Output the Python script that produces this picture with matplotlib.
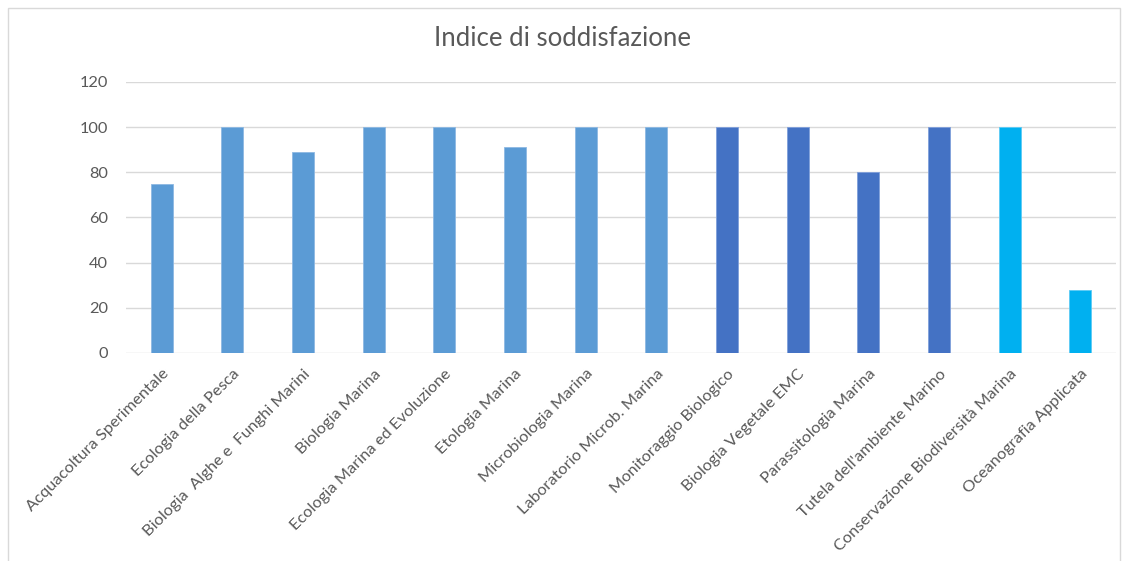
import numpy as np
import matplotlib
matplotlib.use("Agg")
from matplotlib import pyplot as plt
from matplotlib.patches import Rectangle

corsi = ["Acquacoltura Sperimentale", "Ecologia della Pesca",
         "Biologia  Alghe e  Funghi Marini", "Biologia Marina",
         "Ecologia Marina ed Evoluzione", "Etologia Marina",
         "Microbiologia Marina", "Laboratorio Microb. Marina",
         "Monitoraggio Biologico", "Biologia Vegetale EMC",
         "Parassitologia Marina", "Tutela dell'ambiente Marino",
         "Conservazione Biodiversità Marina", "Oceanografia Applicata"]
indice = [75, 100, 89, 100, 100, 91, 100, 100, 100, 100, 80, 100, 100, 28]
gruppo = [0, 0, 0, 0, 0, 0, 0, 0, 1, 1, 1, 1, 2, 2]
colori_gruppo = ["#5B9BD5", "#4472C4", "#00B0F0"]
bordi_gruppo = ["#8DB8E3", "#7F9FDA", "#5CCBF5"]

plt.rcParams['font.family'] = ['Lato', 'DejaVu Sans']

fig = plt.figure(figsize=(11.27, 5.61), dpi=100)
ax = fig.add_axes([0.112, 0.371, 0.878, 0.483])

x = np.arange(len(corsi))
ax.bar(x, indice, width=0.31,
       color=[colori_gruppo[g] for g in gruppo],
       edgecolor=[bordi_gruppo[g] for g in gruppo], linewidth=0.6, zorder=3)

ax.set_xlim(-0.5, len(corsi) - 0.5)
ax.set_ylim(0, 120)
ax.set_yticks(np.arange(0, 121, 20))
ax.yaxis.grid(True, color="#D9D9D9", linewidth=1.0, zorder=0)
ax.set_axisbelow(True)
for s in ax.spines.values():
    s.set_visible(False)
ax.tick_params(axis='both', length=0, colors="#595959", labelsize=11.8)
ax.tick_params(axis='y', pad=13)
ax.set_xticks(x)
ax.set_xticklabels(corsi, rotation=45, ha='right', rotation_mode='anchor')
ax.tick_params(axis='x', pad=10)
for lbl in ax.get_xticklabels():
    lbl.set_x(lbl.get_position()[0])

fig.text(0.499, 0.932, "Indice di soddisfazione", ha='center', va='center',
         fontsize=18.5, color="#595959")

# cornice del grafico
fig.patches.append(Rectangle((0.007, -0.02), 0.987, 1.005, transform=fig.transFigure,
                             fill=False, edgecolor="#D9D9D9", linewidth=1.0))

fig.savefig("out.png", dpi=100)
